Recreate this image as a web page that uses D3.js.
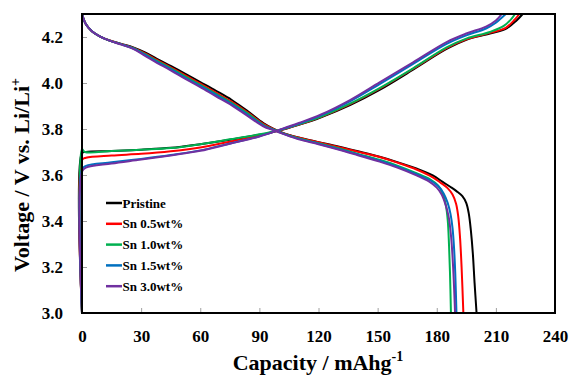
<!DOCTYPE html>
<html>
<head>
<meta charset="utf-8">
<script src="https://cdn.jsdelivr.net/npm/d3@7"></script>
<style>
  body { margin: 0; background: #fff; }
  text { font-family: "Liberation Serif", "Times New Roman", serif; font-weight: bold; }
</style>
</head>
<body>
<div id="chart"></div>
<script>
// series names and colours (legend order)
const seriesNames = ['Pristine', 'Sn 0.5wt%', 'Sn 1.0wt%', 'Sn 1.5wt%', 'Sn 3.0wt%'];
const seriesColors = ['#000000', '#ff0000', '#00b050', '#0070c0', '#7030a0'];

const xTicks = [0, 30, 60, 90, 120, 150, 180, 210, 240];
const yTicks = [3.0, 3.2, 3.4, 3.6, 3.8, 4.0, 4.2];

// discharge curves [capacity, voltage]
const pristineDischarge = [[0,4.30],[2,4.255],[5,4.225],[9,4.203],[14,4.185],[20,4.17],[26,4.155],[32,4.133],[38,4.105],[45,4.074],[52,4.042],[60,4.004],[68,3.966],[76,3.926],[84,3.878],[92,3.826],[97,3.802],[102,3.783],[110,3.763],[120,3.743],[130,3.724],[140,3.703],[151,3.679],[160,3.656],[170,3.627],[178,3.598],[183,3.57],[187,3.548],[190,3.53],[193,3.508],[195,3.478],[196.3,3.43],[197.3,3.36],[198.3,3.26],[199.2,3.13],[200.2,3.0]];
const sn05Discharge = [[0,4.30],[2,4.255],[5,4.225],[9,4.203],[14,4.185],[20,4.169],[26,4.153],[32,4.129],[38,4.10],[45,4.068],[52,4.035],[60,3.997],[68,3.958],[76,3.918],[84,3.872],[92,3.822],[97,3.80],[102,3.782],[110,3.762],[120,3.742],[130,3.722],[140,3.701],[151,3.678],[160,3.654],[170,3.623],[178,3.59],[182,3.566],[185.5,3.543],[188,3.515],[189.8,3.475],[190.9,3.42],[191.8,3.33],[192.6,3.2],[193.5,3.0]];
const sn10Discharge = [[0,4.30],[2,4.255],[5,4.225],[9,4.203],[14,4.184],[20,4.168],[26,4.151],[32,4.125],[38,4.096],[45,4.064],[52,4.03],[60,3.992],[68,3.953],[76,3.913],[84,3.868],[92,3.818],[97,3.798],[102,3.781],[110,3.759],[120,3.738],[130,3.716],[140,3.692],[151,3.666],[160,3.641],[170,3.607],[177,3.579],[180.5,3.556],[183,3.52],[184.6,3.47],[185.6,3.40],[186.2,3.30],[186.7,3.18],[187.2,3.0]];
const sn15Discharge = [[0,4.30],[2,4.255],[5,4.225],[9,4.203],[14,4.184],[20,4.168],[26,4.15],[32,4.122],[38,4.092],[45,4.06],[52,4.025],[60,3.987],[68,3.948],[76,3.908],[84,3.862],[92,3.815],[97,3.797],[102,3.78],[110,3.757],[120,3.736],[130,3.713],[140,3.689],[151,3.662],[160,3.636],[170,3.602],[177,3.575],[181,3.55],[183.5,3.52],[185.5,3.48],[187,3.43],[188,3.37],[188.8,3.28],[189.4,3.17],[190,3.0]];
const sn30Discharge = [[0,4.30],[2,4.255],[5,4.225],[9,4.203],[14,4.184],[20,4.167],[26,4.148],[32,4.118],[38,4.088],[45,4.055],[52,4.02],[60,3.982],[68,3.942],[76,3.903],[84,3.857],[92,3.812],[97,3.795],[102,3.779],[110,3.755],[120,3.734],[130,3.711],[140,3.686],[151,3.658],[160,3.632],[170,3.597],[176,3.572],[180,3.545],[182.5,3.515],[184.5,3.47],[186,3.42],[187.3,3.33],[188.3,3.2],[189.3,3.0]];

// charge curves [capacity, voltage]
const pristineCharge = [[0,3.0],[0,3.695],[2,3.70],[15,3.704],[30,3.71],[45,3.718],[60,3.734],[75,3.753],[90,3.775],[100,3.793],[110,3.818],[121,3.85],[136,3.904],[151,3.97],[168,4.058],[185,4.148],[195,4.188],[207,4.215],[215.5,4.238],[220.5,4.272],[223.6,4.30]];
const sn05Charge = [[0,3.0],[0,3.665],[2,3.675],[15,3.685],[30,3.692],[45,3.703],[60,3.72],[75,3.745],[90,3.772],[100,3.793],[110,3.819],[121,3.852],[136,3.908],[151,3.975],[168,4.062],[185,4.152],[195,4.19],[207,4.218],[215,4.24],[219.5,4.275],[221.9,4.30]];
const sn10Charge = [[0,3.0],[0,3.712],[1.5,3.70],[15,3.704],[30,3.71],[45,3.717],[60,3.734],[75,3.755],[90,3.777],[100,3.795],[110,3.82],[121,3.853],[136,3.91],[151,3.978],[168,4.064],[185,4.155],[195,4.193],[207,4.222],[214,4.248],[218,4.28],[219.7,4.30]];
const sn15Charge = [[0,3.0],[0,3.625],[2,3.64],[15,3.655],[30,3.67],[45,3.687],[60,3.707],[75,3.737],[90,3.768],[100,3.795],[110,3.823],[121,3.858],[136,3.92],[151,3.995],[168,4.083],[185,4.17],[195,4.207],[205,4.237],[210,4.262],[213.5,4.288],[215,4.30]];
const sn30Charge = [[0,3.0],[0,3.615],[2,3.632],[15,3.65],[30,3.667],[45,3.685],[60,3.705],[75,3.736],[90,3.767],[100,3.796],[110,3.826],[121,3.862],[136,3.926],[151,4.003],[168,4.09],[185,4.178],[195,4.215],[205,4.245],[210,4.272],[213,4.30]];

const dischargeCurves = [pristineDischarge, sn05Discharge, sn10Discharge, sn15Discharge, sn30Discharge];
const chargeCurves = [pristineCharge, sn05Charge, sn10Charge, sn15Charge, sn30Charge];

//// Chart dimensions
let dimensions = {
  width: 569,
  height: 376,
  margin: { top: 14, right: 14, bottom: 63, left: 82 },
}
dimensions.boundedWidth = dimensions.width - dimensions.margin.left - dimensions.margin.right
dimensions.boundedHeight = dimensions.height - dimensions.margin.top - dimensions.margin.bottom

const wrapper = d3.select('#chart')
  .append('svg')
  .attr('width', dimensions.width)
  .attr('height', dimensions.height)

const bounds = wrapper.append('g')
  .attr('transform', `translate(${dimensions.margin.left},${dimensions.margin.top})`)

//// Scales
const xScale = d3.scaleLinear()
  .domain([0, 240])
  .range([0, dimensions.boundedWidth])

const yScale = d3.scaleLinear()
  .domain([3.0, 4.3])
  .range([dimensions.boundedHeight, 0])

//// Axes (ticks pointing inward)
const xAxis = bounds.append('g')
  .attr('transform', `translate(0,${dimensions.boundedHeight})`)
  .call(d3.axisBottom(xScale).tickValues(xTicks).tickSize(-5).tickPadding(17).tickFormat(d3.format('d')))
xAxis.select('.domain').remove()
xAxis.selectAll('line').attr('stroke', '#a0a0a0')
xAxis.selectAll('text').attr('font-size', 17).attr('fill', '#000')

const yAxis = bounds.append('g')
  .call(d3.axisLeft(yScale).tickValues(yTicks).tickSize(-5).tickPadding(19).tickFormat(d3.format('.1f')))
yAxis.select('.domain').remove()
yAxis.selectAll('line').attr('stroke', '#a0a0a0')
yAxis.selectAll('text').attr('font-size', 17).attr('fill', '#000')

//// Curves
const line = d3.line()
  .x(d => xScale(d[0]))
  .y(d => yScale(d[1]))
  .curve(d3.curveCatmullRom.alpha(0.5))

const curves = bounds.append('g')
seriesNames.forEach((name, i) => {
  [dischargeCurves[i], chargeCurves[i]].forEach(pts => {
    curves.append('path')
      .attr('d', line(pts))
      .attr('fill', 'none')
      .attr('stroke', seriesColors[i])
      .attr('stroke-width', 2)
  })
})

//// Frame
bounds.append('rect')
  .attr('width', dimensions.boundedWidth)
  .attr('height', dimensions.boundedHeight)
  .attr('fill', 'none')
  .attr('stroke', '#000')
  .attr('stroke-width', 2)

//// Axis titles
wrapper.append('text')
  .attr('x', 318)
  .attr('y', 370)
  .attr('text-anchor', 'middle')
  .attr('font-size', 22)
  .text('Capacity / mAhg')
  .append('tspan')
  .attr('dy', -9)
  .attr('font-size', 14)
  .text('-1')

const yTitle = wrapper.append('text')
  .attr('transform', 'translate(28.5,175) rotate(-90)')
  .attr('text-anchor', 'middle')
  .attr('font-size', 22)
yTitle.append('tspan').text('Voltage / V vs. Li/Li')
yTitle.append('tspan').attr('dy', -9).attr('font-size', 14).text('+')

//// Legend
const legend = wrapper.append('g')
  .attr('transform', 'translate(106,203)')

const entries = legend.selectAll('g')
  .data(seriesNames)
  .join('g')
  .attr('transform', (d, i) => `translate(0,${i * 20.8})`)

entries.append('line')
  .attr('x1', 0).attr('x2', 16)
  .attr('stroke', (d, i) => seriesColors[i])
  .attr('stroke-width', 2.5)

entries.append('text')
  .attr('x', 16.5)
  .attr('y', 4.5)
  .attr('font-size', 13)
  .text(d => d)
</script>
</body>
</html>
